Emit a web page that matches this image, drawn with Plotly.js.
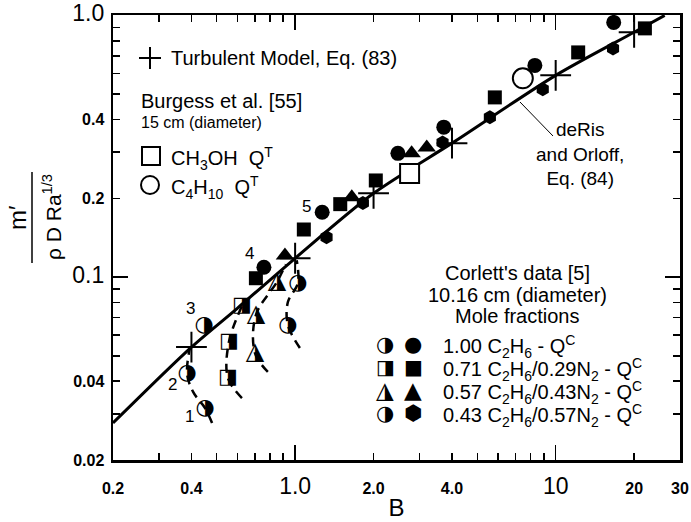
<!DOCTYPE html>
<html>
<head>
<meta charset="utf-8">
<script src="https://cdn.plot.ly/plotly-3.0.1.min.js"></script>
<style>html,body{margin:0;padding:0;background:#fff}#chart{width:691px;height:522px}</style>
</head>
<body>
<div id="chart"></div>
<script>
// ---------- data ----------
// deRis and Orloff, Eq. (84) solid curve
const lineB = [0.2, 0.4, 0.6, 1.0, 2.0, 4.0, 10, 20, 26.2];
const lineY = [0.0277, 0.054, 0.076, 0.118, 0.209, 0.325, 0.59, 0.862, 1.0];
// Turbulent model, Eq. (83)
const plusB = [0.4, 1.0, 2.0, 4.0, 10, 20];
const plusY = [0.054, 0.118, 0.209, 0.325, 0.59, 0.862];
// Burgess et al. [55]
const ch3ohB = [2.75];
const ch3ohY = [0.249];
const c4h10B = [7.48];
const c4h10Y = [0.575];
// Corlett's data [5], filled symbols
const c100B = [0.759, 1.27, 2.48, 3.72, 8.32, 16.7];
const c100Y = [0.109, 0.177, 0.297, 0.374, 0.644, 0.94];
const c071B = [0.707, 1.08, 1.49, 2.04, 5.84, 12.2, 22.0];
const c071Y = [0.099, 0.152, 0.190, 0.234, 0.486, 0.722, 0.892];
const c057B = [0.914, 1.65, 2.80, 3.20];
const c057Y = [0.121, 0.202, 0.297, 0.313];
const c043B = [1.32, 1.82, 3.68, 5.59, 8.92, 16.6];
const c043Y = [0.142, 0.192, 0.327, 0.408, 0.522, 0.748];
// Corlett's data [5], half-filled symbols
const h100B = [0.451, 0.385, 0.447];
const h100Y = [0.0316, 0.0427, 0.0656];
const h071B = [0.552, 0.557, 0.625];
const h071Y = [0.0412, 0.0565, 0.0775];
const h057B = [0.701, 0.707, 0.851];
const h057Y = [0.0513, 0.0716, 0.0957];
const h043B = [0.938, 1.025];
const h043Y = [0.0656, 0.0949];
// dashed curves through the half-filled symbols
const d100B = [0.480, 0.451, 0.406, 0.385, 0.395];
const d100Y = [0.0277, 0.0316, 0.0364, 0.0427, 0.054];
const d071B = [0.625, 0.552, 0.557, 0.625];
const d071Y = [0.0345, 0.0412, 0.0565, 0.0775];
const d057B = [0.786, 0.701, 0.707, 0.851, 0.921];
const d057Y = [0.0434, 0.0513, 0.0716, 0.0957, 0.112];
const d043B = [1.043, 0.938, 0.938, 1.025, 1.014];
const d043Y = [0.0536, 0.0656, 0.0803, 0.0949, 0.116];
// axis ticks
const xTickVals = [0.2, 0.4, 1, 2, 4, 10, 20, 30];
const xTickLabels = ['0.2', '0.4', '1.0', '2.0', '4.0', '10', '20', '30'];
const xMajor = [1, 10];
const xMinor = [0.3, 0.5, 0.6, 0.7, 0.8, 0.9, 3, 5, 6, 7, 8, 9];
const yTickVals = [0.02, 0.04, 0.1, 0.2, 0.4, 1];
const yTickLabels = ['0.02', '0.04', '0.1', '0.2', '0.4', '1.0'];
const yMajor = [0.1, 1];
const yMinor = [0.03, 0.05, 0.06, 0.07, 0.08, 0.09, 0.3, 0.5, 0.6, 0.7, 0.8, 0.9];
// texts
const pointLabels = ['1', '2', '3', '4', '5'];
const corlettRows = [
  '1.00 C<sub>2</sub>H<sub>6</sub> - Q<sup>C</sup>',
  '0.71 C<sub>2</sub>H<sub>6</sub>/0.29N<sub>2</sub> - Q<sup>C</sup>',
  '0.57 C<sub>2</sub>H<sub>6</sub>/0.43N<sub>2</sub> - Q<sup>C</sup>',
  '0.43 C<sub>2</sub>H<sub>6</sub>/0.57N<sub>2</sub> - Q<sup>C</sup>'
];
const corlettHalf = ['\u25D1', '\u25E8', '\u25EE', '\u25D1'];
const corlettFull = ['\u25CF', '\u25A0', '\u25B2', '\u2B22'];

// ---------- layout helpers (pixel -> paper) ----------
const L = 113, R = 680, T = 15, Bm = 460;
const W = 691, H = 522;
const px = x => (x - L) / (R - L);
const py = y => (Bm - y) / (Bm - T);
const FONT = 'Liberation Sans, Arial, Helvetica, sans-serif';
const GLYPH = 'DejaVu Sans, sans-serif';

function tickText(vals, labels, major) {
  return labels.map((s, i) => major.indexOf(vals[i]) >= 0
    ? '<span style="font-size:23px">' + s + '</span>'
    : '<b>' + s + '</b>');
}

const traces = [];
function dashed(b, y) {
  traces.push({x: b, y: y, mode: 'lines', line: {color: 'black', width: 2.5, dash: '9px,6px', shape: 'spline'}, hoverinfo: 'skip'});
}
dashed(d100B, d100Y); dashed(d071B, d071Y); dashed(d057B, d057Y); dashed(d043B, d043Y);
traces.push({x: lineB, y: lineY, mode: 'lines', line: {color: 'black', width: 3, shape: 'spline', smoothing: 0.8}, hoverinfo: 'skip'});
function filled(b, y, sym, size) {
  traces.push({x: b, y: y, mode: 'markers', marker: {symbol: sym, size: size, color: 'black', line: {width: 0}}, hoverinfo: 'skip'});
}
filled(c043B, c043Y, 'hexagon', 14);
filled(c057B, c057Y, 'triangle-up', 16);
filled(c071B, c071Y, 'square', 14);
filled(c100B, c100Y, 'circle', 15);
function half(b, y, glyph, size) {
  traces.push({x: b, y: y, mode: 'text', text: b.map(() => glyph), textposition: 'middle center',
    textfont: {family: GLYPH, size: size, color: 'black'}, hoverinfo: 'skip'});
}
half(h100B, h100Y, corlettHalf[0], 22);
half(h071B, h071Y, corlettHalf[1], 21);
half(h057B, h057Y, corlettHalf[2], 24);
half(h043B, h043Y, corlettHalf[3], 22);
traces.push({x: ch3ohB, y: ch3ohY, mode: 'markers', marker: {symbol: 'square', size: 19, color: 'white', line: {color: 'black', width: 2}}, hoverinfo: 'skip'});
traces.push({x: c4h10B, y: c4h10Y, mode: 'markers', marker: {symbol: 'circle', size: 20, color: 'white', line: {color: 'black', width: 2}}, hoverinfo: 'skip'});
traces.push({x: plusB, y: plusY, mode: 'markers', marker: {symbol: 'cross-thin', size: 22, color: 'black', line: {color: 'black', width: 2}}, hoverinfo: 'skip'});
// empty trace so the overlay axes (long major ticks) exist
traces.push({x: [], y: [], xaxis: 'x2', yaxis: 'y2', mode: 'markers', hoverinfo: 'skip'});

const ann = [];
function txt(text, x, y, size, xanchor, extra) {
  ann.push(Object.assign({text: text, xref: 'paper', yref: 'paper', x: px(x), y: py(y), xanchor: xanchor || 'left', yanchor: 'middle',
    showarrow: false, font: {family: FONT, size: size, color: 'black'}}, extra || {}));
}
// left legend
txt('Turbulent Model, Eq. (83)', 169, 58, 20);
txt('Burgess et al. [55]', 139, 101, 20);
txt('15 cm (diameter)', 139, 122, 16);
txt('CH<sub>3</sub>OH\u00a0\u00a0Q<sup>T</sup>', 169, 158, 20);
txt('C<sub>4</sub>H<sub>10</sub>\u00a0\u00a0Q<sup>T</sup>', 169, 187, 20);
// Corlett legend
txt("Corlett's data [5]", 517, 273, 20, 'center');
txt('10.16 cm (diameter)', 517, 295, 20, 'center');
txt('Mole fractions', 517, 316, 20, 'center');
const rowY = [344, 367, 390, 413];
const halfSize = [21, 20, 23, 21];
corlettRows.forEach((r, i) => {
  txt(r, 441, rowY[i] + 2, 20);
  ann.push({text: corlettHalf[i], xref: 'paper', yref: 'paper', x: px(385), y: py(rowY[i]), xanchor: 'center', yanchor: 'middle', showarrow: false, font: {family: GLYPH, size: halfSize[i], color: 'black'}});
  ann.push({text: corlettFull[i], xref: 'paper', yref: 'paper', x: px(413), y: py(rowY[i]), xanchor: 'center', yanchor: 'middle', showarrow: false, font: {family: GLYPH, size: halfSize[i], color: 'black'}});
});
// deRis label
txt('deRis<br>and Orloff,<br>Eq. (84)', 580, 154, 19, 'center', {align: 'center'});
// point numbers
const numPos = [[189, 416], [172, 384], [190, 308], [249, 253], [306, 206]];
pointLabels.forEach((s, i) => txt(s, numPos[i][0], numPos[i][1], 17, 'center'));
// y title (fraction)
txt('m\u2032', 17, 218, 24, 'center', {textangle: -90});
txt('\u03C1 D Ra<sup>1/3</sup>', 52, 217, 21, 'center', {textangle: -90});

const shapes = [
  // fraction bar
  {type: 'line', xref: 'paper', yref: 'paper', x0: px(32), x1: px(32), y0: py(263), y1: py(172), line: {color: 'black', width: 1.5}},
  // leader line to deRis curve
  {type: 'line', xref: 'paper', yref: 'paper', x0: px(520), x1: px(553), y0: py(102), y1: py(136), line: {color: 'black', width: 1}},
  // legend plus
  {type: 'line', xref: 'paper', yref: 'paper', x0: px(139), x1: px(161), y0: py(58), y1: py(58), line: {color: 'black', width: 2}},
  {type: 'line', xref: 'paper', yref: 'paper', x0: px(150), x1: px(150), y0: py(47), y1: py(69), line: {color: 'black', width: 2}},
  // legend open square
  {type: 'rect', xref: 'paper', yref: 'paper', x0: px(142), x1: px(160), y0: py(165), y1: py(147), line: {color: 'black', width: 2}, fillcolor: 'white'},
  // legend open circle
  {type: 'circle', xref: 'paper', yref: 'paper', x0: px(141), x1: px(159), y0: py(194), y1: py(176), line: {color: 'black', width: 2}, fillcolor: 'white'}
];

const xRange = [Math.log10(0.2), Math.log10(30)];
const yRange = [Math.log10(0.02), 0.0015];
const axBase = {
  type: 'log', showgrid: false, zeroline: false, showline: true, linecolor: 'black', linewidth: 2.5,
  mirror: 'ticks', ticks: 'inside', ticklen: 7, tickwidth: 1.5, tickcolor: 'black'
};
const layout = {
  width: W, height: H,
  margin: {l: L, r: W - R, t: T, b: H - Bm},
  paper_bgcolor: 'white', plot_bgcolor: 'white',
  showlegend: false,
  font: {family: FONT, color: 'black'},
  xaxis: Object.assign({}, axBase, {
    range: xRange,
    tickmode: 'array', tickvals: xTickVals, ticktext: tickText(xTickVals, xTickLabels, xMajor),
    tickfont: {family: FONT, size: 16, color: 'black'}, ticklabelstandoff: 12, ticklabeloverflow: 'allow',
    minor: {tickmode: 'array', tickvals: xMinor, ticks: 'inside', ticklen: 7, tickwidth: 1.5, tickcolor: 'black', showgrid: false},
    title: {text: 'B', font: {family: FONT, size: 24, color: 'black'}, standoff: 2}
  }),
  yaxis: Object.assign({}, axBase, {
    range: yRange,
    tickmode: 'array', tickvals: yTickVals, ticktext: tickText(yTickVals, yTickLabels, yMajor),
    tickfont: {family: FONT, size: 16, color: 'black'}, ticklabelstandoff: 3, ticklabeloverflow: 'allow',
    minor: {tickmode: 'array', tickvals: yMinor, ticks: 'inside', ticklen: 7, tickwidth: 1.5, tickcolor: 'black', showgrid: false}
  }),
  xaxis2: Object.assign({}, axBase, {
    overlaying: 'x', anchor: 'y', side: 'bottom', range: xRange,
    tickmode: 'array', tickvals: xMajor, ticklen: 15, showticklabels: false
  }),
  yaxis2: Object.assign({}, axBase, {
    overlaying: 'y', anchor: 'x', side: 'left', range: yRange,
    tickmode: 'array', tickvals: yMajor, ticklen: 15, showticklabels: false
  }),
  annotations: ann,
  shapes: shapes
};
Plotly.newPlot('chart', traces, layout, {staticPlot: true});
</script>
</body>
</html>
